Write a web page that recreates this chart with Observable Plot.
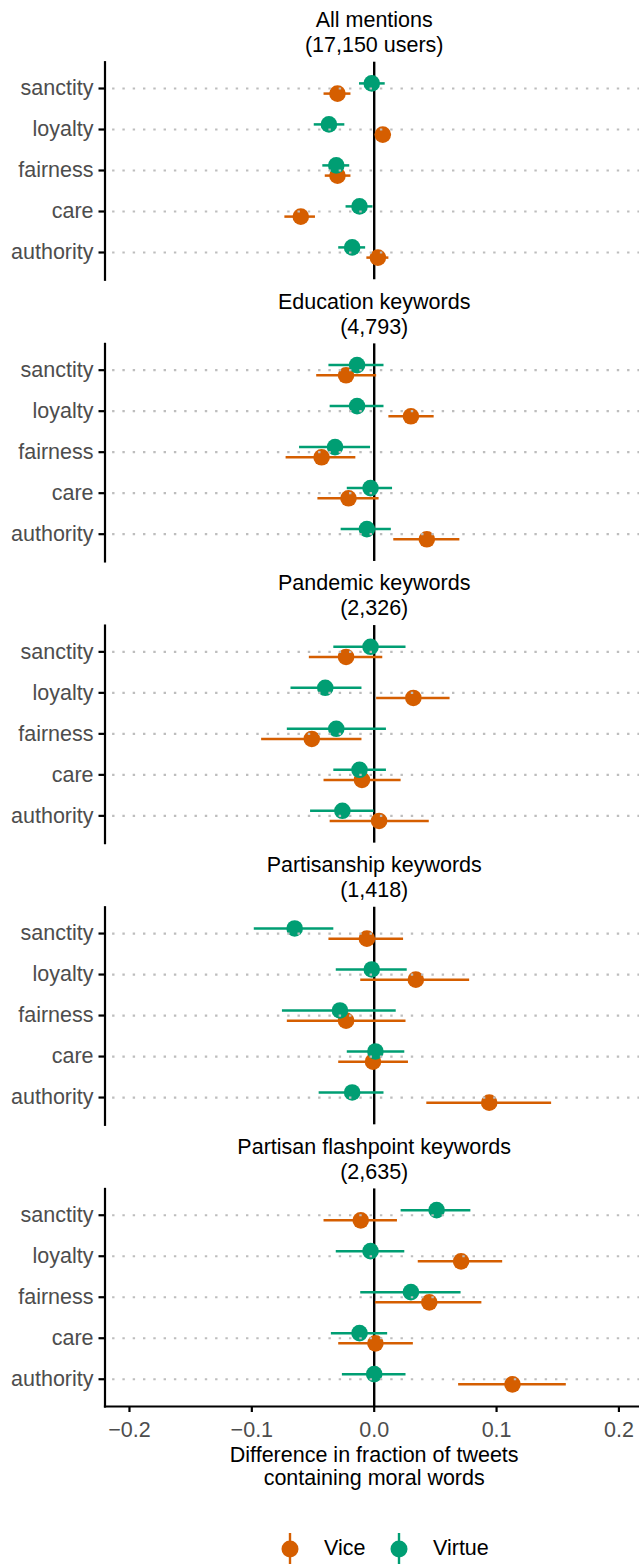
<!DOCTYPE html>
<html>
<head>
<meta charset="utf-8">
<script src="https://cdn.jsdelivr.net/npm/d3@7"></script>
<script src="https://cdn.jsdelivr.net/npm/@observablehq/plot@0.6"></script>
<style>
  html, body { margin: 0; padding: 0; background: #fff; }
  body { font-family: "Liberation Sans", Arial, Helvetica, sans-serif; width: 639px; }
  #legend { position: relative; height: 64px; width: 639px; }
  #legend .key { position: absolute; }
  #legend .lab { position: absolute; font-size: 21.5px; color: #000; line-height: 1; }
</style>
</head>
<body>
<div id="chart"></div>
<div id="legend"></div>
<script>
// ---------- data ----------
const facetNames  = ["All mentions", "Education keywords", "Pandemic keywords", "Partisanship keywords", "Partisan flashpoint keywords"];
const facetCounts = ["17,150 users", "4,793", "2,326", "1,418", "2,635"];
const foundations = ["sanctity", "loyalty", "fairness", "care", "authority"];
const seriesNames = ["Vice", "Virtue"];
const xTicks = [-0.2, -0.1, 0, 0.1, 0.2];
const xLabel = "Difference in fraction of tweets\ncontaining moral words";

// rows = facets, columns = foundations (sanctity, loyalty, fairness, care, authority)
const viceEst = [
  [-0.030, 0.007, -0.030, -0.060, 0.003],
  [-0.023, 0.030, -0.043, -0.021, 0.043],
  [-0.023, 0.032, -0.051, -0.010, 0.004],
  [-0.006, 0.034, -0.023, -0.001, 0.094],
  [-0.011, 0.071,  0.045,  0.001, 0.113]
];
const viceLo = [
  [-0.041, 0.001, -0.040, -0.073, -0.006],
  [-0.047, 0.012, -0.072, -0.046,  0.016],
  [-0.053, 0.002, -0.092, -0.041, -0.036],
  [-0.037, -0.011, -0.071, -0.029, 0.043],
  [-0.041, 0.036,  0.001, -0.029,  0.069]
];
const viceHi = [
  [-0.019, 0.014, -0.019, -0.048, 0.012],
  [ 0.002, 0.049, -0.015,  0.004, 0.070],
  [ 0.007, 0.062, -0.010,  0.022, 0.045],
  [ 0.024, 0.078,  0.026,  0.028, 0.145],
  [ 0.019, 0.105,  0.088,  0.032, 0.157]
];
const virtueEst = [
  [-0.002, -0.037, -0.031, -0.012, -0.018],
  [-0.014, -0.014, -0.032, -0.003, -0.006],
  [-0.003, -0.040, -0.031, -0.012, -0.026],
  [-0.065, -0.002, -0.028,  0.001, -0.018],
  [ 0.051, -0.003,  0.030, -0.012,  0.000]
];
const virtueLo = [
  [-0.012, -0.049, -0.042, -0.023, -0.029],
  [-0.037, -0.036, -0.061, -0.022, -0.027],
  [-0.033, -0.068, -0.071, -0.033, -0.052],
  [-0.098, -0.031, -0.075, -0.022, -0.045],
  [ 0.022, -0.031, -0.011, -0.035, -0.026]
];
const virtueHi = [
  [ 0.009, -0.024, -0.020, -0.001, -0.007],
  [ 0.008,  0.008, -0.003,  0.015,  0.014],
  [ 0.026, -0.010,  0.010,  0.010,  0.000],
  [-0.033,  0.027,  0.018,  0.025,  0.008],
  [ 0.079,  0.025,  0.071,  0.011,  0.026]
];

const colors = {Vice: "#D55E00", Virtue: "#009E73"};

// ---------- build table ----------
function rows(series, est, lo, hi) {
  const out = [];
  facetNames.forEach((f, i) => foundations.forEach((c, j) => {
    out.push({facet: f, cat: c, series, est: est[i][j], lo: lo[i][j], hi: hi[i][j]});
  }));
  return out;
}
const vice = rows("Vice", viceEst, viceLo, viceHi);
const virtue = rows("Virtue", virtueEst, virtueLo, virtueHi);
const titles = facetNames.map((f, i) => ({facet: f, text: `${f}\n(${facetCounts[i]})`}));
const bottomFacet = [{facet: facetNames[facetNames.length - 1], text: xLabel}];

const DODGE = 5.1;
const FONT = 21.5;

const chart = Plot.plot({
  width: 639,
  height: 1500,
  marginTop: 61.7,
  marginBottom: 94,
  marginLeft: 104.5,
  marginRight: 0,
  style: {fontFamily: '"Liberation Sans", Arial, Helvetica, sans-serif', fontSize: FONT + "px", background: "#fff", overflow: "visible"},
  x: {domain: [-0.22, 0.22], range: [104.5, 642.9]},
  y: {type: "point", domain: foundations, padding: 0.6},
  fy: {domain: facetNames, paddingInner: 0.2276, paddingOuter: 0, axis: null, round: false},
  marks: [
    Plot.ruleX([0], {stroke: "black", strokeWidth: 2.4}),
    Plot.ruleY(vice, {x1: "lo", x2: "hi", y: "cat", fy: "facet", stroke: colors.Vice, strokeWidth: 2.5, dy: DODGE}),
    Plot.dot(vice, {x: "est", y: "cat", fy: "facet", r: 8.3, fill: colors.Vice, stroke: "none", dy: DODGE}),
    Plot.ruleY(virtue, {x1: "lo", x2: "hi", y: "cat", fy: "facet", stroke: colors.Virtue, strokeWidth: 2.5, dy: -DODGE}),
    Plot.dot(virtue, {x: "est", y: "cat", fy: "facet", r: 8.3, fill: colors.Virtue, stroke: "none", dy: -DODGE}),
    Plot.ruleY(foundations, {y: d => d, stroke: "#bdbdbd", strokeWidth: 2.2, strokeDasharray: "2.4,7.9", strokeDashoffset: 2.7}),
    Plot.frame({anchor: "left", stroke: "black", strokeWidth: 2.2}),
    Plot.frame({anchor: "bottom", facetAnchor: "bottom", stroke: "black", strokeWidth: 2.2}),
    Plot.axisY({tickSize: 6, tickPadding: 5.5, stroke: "black", strokeWidth: 2.2, fill: "#4d4d4d", fontSize: FONT, label: null}),
    Plot.axisX({ticks: xTicks, tickFormat: d3.format(".1f"), tickSize: 6, tickPadding: 9, stroke: "black", strokeWidth: 2.2, fill: "#4d4d4d", fontSize: FONT, label: null}),
    Plot.text(titles, {fy: "facet", x: 0, frameAnchor: "top", dy: -30.8, text: "text", lineAnchor: "middle", lineHeight: 1.17, fontSize: FONT, fill: "black"}),
    Plot.text(bottomFacet, {fy: "facet", x: 0, frameAnchor: "bottom", dy: 59.5, text: "text", lineAnchor: "middle", lineHeight: 1.08, fontSize: FONT, fill: "black"})
  ]
});
document.getElementById("chart").appendChild(chart);

// ---------- legend ----------
const legend = document.getElementById("legend");
const keyPos = {Vice: {key: 290, lab: 324}, Virtue: {key: 399, lab: 433}};
seriesNames.forEach(s => {
  const ns = "http://www.w3.org/2000/svg";
  const svg = document.createElementNS(ns, "svg");
  svg.setAttribute("width", 20); svg.setAttribute("height", 32);
  svg.setAttribute("class", "key");
  svg.style.left = (keyPos[s].key - 10) + "px";
  svg.style.top = (49.3 - 16) + "px";
  const ln = document.createElementNS(ns, "line");
  ln.setAttribute("x1", 10); ln.setAttribute("x2", 10); ln.setAttribute("y1", 0); ln.setAttribute("y2", 32);
  ln.setAttribute("stroke", colors[s]); ln.setAttribute("stroke-width", 2.4);
  const c = document.createElementNS(ns, "circle");
  c.setAttribute("cx", 10); c.setAttribute("cy", 16); c.setAttribute("r", 8.5);
  c.setAttribute("fill", colors[s]);
  svg.appendChild(ln); svg.appendChild(c);
  legend.appendChild(svg);
  const lab = document.createElement("span");
  lab.className = "lab";
  lab.textContent = s;
  lab.style.left = keyPos[s].lab + "px";
  lab.style.top = (49.3 - 11.5) + "px";
  legend.appendChild(lab);
});
</script>
</body>
</html>
